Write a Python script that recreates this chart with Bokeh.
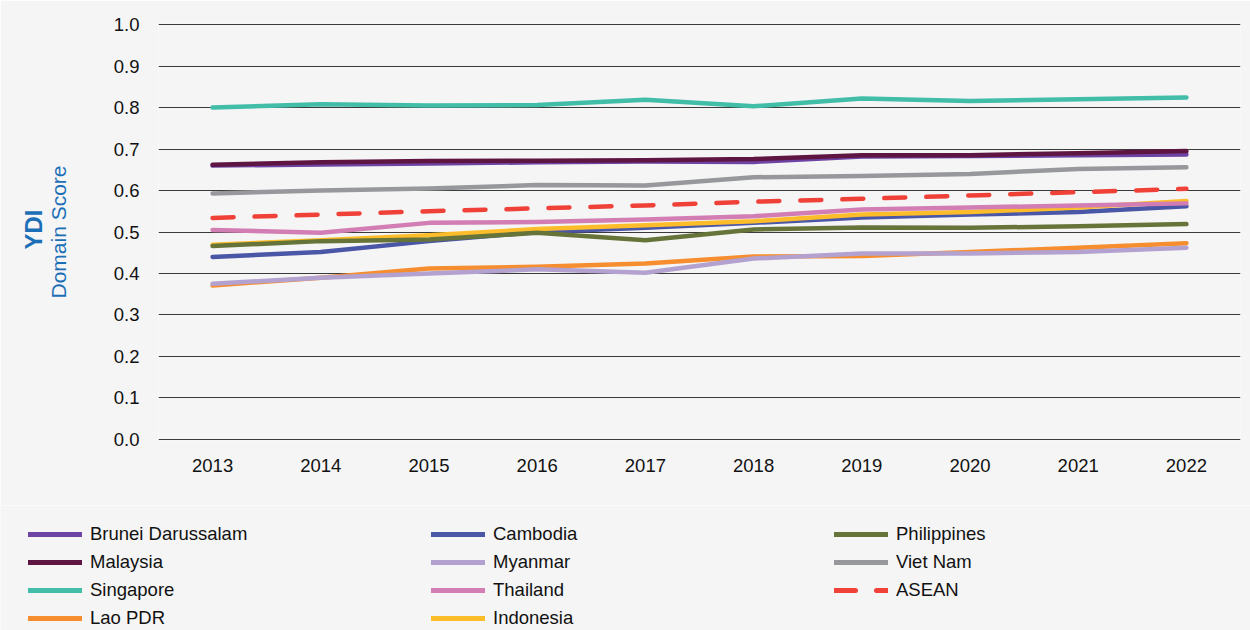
from bokeh.plotting import figure
from bokeh.models import Legend, LegendItem, FixedTicker, PrintfTickFormatter, Range1d, Title
from bokeh.embed import file_html
from bokeh.resources import INLINE

years = ["2013", "2014", "2015", "2016", "2017", "2018", "2019", "2020", "2021", "2022"]

brunei = [0.660, 0.663, 0.665, 0.668, 0.670, 0.669, 0.682, 0.683, 0.685, 0.687]
malaysia = [0.662, 0.668, 0.671, 0.672, 0.673, 0.676, 0.685, 0.685, 0.690, 0.695]
singapore = [0.800, 0.808, 0.805, 0.806, 0.819, 0.803, 0.822, 0.816, 0.820, 0.824]
lao = [0.371, 0.390, 0.412, 0.416, 0.424, 0.441, 0.442, 0.452, 0.462, 0.473]
cambodia = [0.440, 0.452, 0.478, 0.500, 0.510, 0.522, 0.535, 0.542, 0.548, 0.562]
myanmar = [0.375, 0.390, 0.400, 0.410, 0.402, 0.436, 0.448, 0.448, 0.452, 0.462]
thailand = [0.505, 0.498, 0.522, 0.524, 0.530, 0.538, 0.554, 0.559, 0.564, 0.569]
indonesia = [0.469, 0.480, 0.492, 0.507, 0.516, 0.526, 0.542, 0.548, 0.559, 0.575]
philippines = [0.466, 0.478, 0.482, 0.498, 0.480, 0.506, 0.511, 0.510, 0.514, 0.519]
vietnam = [0.593, 0.600, 0.605, 0.613, 0.612, 0.632, 0.635, 0.640, 0.652, 0.656]
asean = [0.534, 0.542, 0.550, 0.557, 0.564, 0.573, 0.580, 0.588, 0.596, 0.604]

y_ticks = [0.0, 0.1, 0.2, 0.3, 0.4, 0.5, 0.6, 0.7, 0.8, 0.9, 1.0]

# name -> (values, colour, dash)
series = {
    "Brunei Darussalam": (brunei, "#6d43a3", "solid"),
    "Malaysia": (malaysia, "#5f1541", "solid"),
    "Singapore": (singapore, "#41bda8", "solid"),
    "Lao PDR": (lao, "#f68d2e", "solid"),
    "Cambodia": (cambodia, "#4a56a6", "solid"),
    "Myanmar": (myanmar, "#b3a2d0", "solid"),
    "Thailand": (thailand, "#d27db4", "solid"),
    "Indonesia": (indonesia, "#fdbd2b", "solid"),
    "Philippines": (philippines, "#66743a", "solid"),
    "Viet Nam": (vietnam, "#97989b", "solid"),
    "ASEAN": (asean, "#ef4138", "21 21"),
}
draw_order = ["Lao PDR", "Myanmar", "Cambodia", "Indonesia", "Philippines", "Thailand",
              "Viet Nam", "Brunei Darussalam", "Malaysia", "Singapore", "ASEAN"]
legend_order = ["Brunei Darussalam", "Malaysia", "Singapore", "Lao PDR",
                "Cambodia", "Myanmar", "Thailand", "Indonesia",
                "Philippines", "Viet Nam", "ASEAN"]

BG = "#f5f5f5"
FONT = "Liberation Sans"
BLUE = "#1c6fb6"
LW = 4.5

# ---------------- main chart ----------------
p = figure(width=1250, height=505, x_range=years, y_range=Range1d(-0.005, 1.005),
           output_backend="svg", toolbar_location=None,
           min_border_left=158, min_border_right=10, min_border_top=22, min_border_bottom=64)
p.background_fill_color = BG
p.border_fill_color = BG
p.outline_line_color = None

p.xgrid.grid_line_color = None
p.ygrid.grid_line_color = "#3a3a3a"
p.ygrid.grid_line_width = 1

p.yaxis.ticker = FixedTicker(ticks=y_ticks)
p.yaxis.formatter = PrintfTickFormatter(format="%.1f")
for ax in (p.xaxis[0], p.yaxis[0]):
    ax.axis_line_color = None
    ax.major_tick_line_color = None
    ax.minor_tick_line_color = None
    ax.major_tick_out = 0
    ax.major_tick_in = 0
    ax.major_label_text_font = FONT
    ax.major_label_text_font_size = "18.5px"
    ax.major_label_text_color = "#111111"
p.yaxis.major_label_standoff = 19
p.xaxis.major_label_standoff = 17

p.yaxis.axis_label = "Domain Score"
p.yaxis.axis_label_text_font = FONT
p.yaxis.axis_label_text_font_size = "21px"
p.yaxis.axis_label_text_font_style = "normal"
p.yaxis.axis_label_text_color = BLUE
p.yaxis.axis_label_standoff = 41

p.add_layout(Title(text="YDI", align="left", offset=192, text_font=FONT,
                   text_font_size="24px", text_font_style="bold", text_color=BLUE,
                   standoff=-7), "left")

for name in draw_order:
    vals, col, dash = series[name]
    p.line(years, vals, line_color=col, line_width=LW, line_dash=dash,
           line_cap="round", line_join="round")

# ---------------- legend strip (separate root, same series styles) ----------------
q = figure(width=1250, height=125, x_range=years, y_range=Range1d(5, 6),
           output_backend="svg", toolbar_location=None,
           x_axis_location=None, y_axis_location=None,
           min_border_left=0, min_border_right=0, min_border_top=0, min_border_bottom=0)
q.background_fill_color = BG
q.border_fill_color = BG
q.outline_line_color = None
q.grid.visible = False

items = []
for name in legend_order:
    vals, col, dash = series[name]
    # same series, drawn outside the visible range: only the legend key shows
    r = q.line(years, vals, line_color=col, line_width=LW + 0.5, line_dash=dash,
               line_cap="round", line_join="round")
    items.append(LegendItem(label=name, renderers=[r]))

legend = Legend(items=items, location=(28, 1), orientation="vertical", nrows=4,
                glyph_width=54, glyph_height=22, label_height=22, label_standoff=8,
                label_width=335, spacing=6, padding=0, margin=0,
                border_line_color=None, background_fill_alpha=0,
                label_text_font=FONT, label_text_font_size="18.5px",
                label_text_color="#111111")
q.add_layout(legend)

html = file_html([p, q], INLINE)
html = html.replace("<body>", '<body style="background-color: #f5f5f5;">', 1)
open("out.html", "w").write(html)
